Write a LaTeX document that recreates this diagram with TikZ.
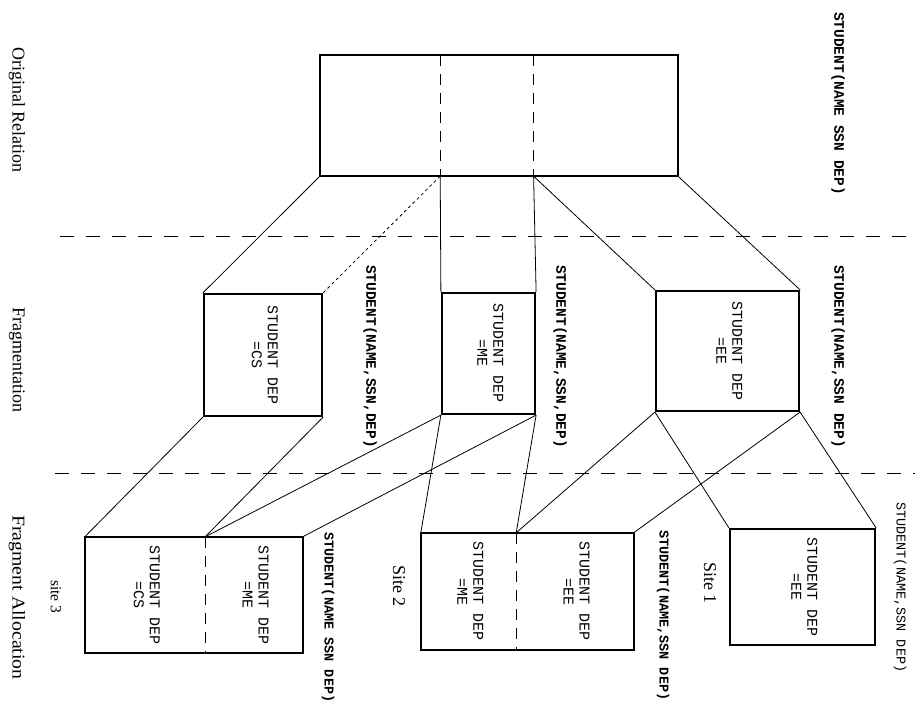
\documentclass[tikz,border=0pt]{standalone}
\usepackage{graphicx}
\usepackage{fontspec}
\setmainfont{Liberation Serif}
\setmonofont{Liberation Mono}
\usetikzlibrary{positioning}

\tikzset{
  part/.style={rectangle, inner sep=0pt, font=\ttfamily\fontsize{15}{16}\selectfont},
  fragbox/.style={part, draw, line width=2.2pt},
  link/.style={line width=0.8pt},
  sep/.style={line width=0.9pt, dash pattern=on 14pt off 12pt},
  divider/.style={line width=1.4pt, dash pattern=on 11pt off 8pt},
  rel/.style={rotate=-90, anchor=west, inner sep=0pt, font=\ttfamily\bfseries\fontsize{14.5}{16}\selectfont},
  siterel/.style={rel, font=\ttfamily\bfseries\fontsize{13.5}{15}\selectfont},
  stage/.style={rotate=-90, anchor=west, inner sep=0pt, font=\fontsize{18}{20}\selectfont},
}

\newcommand{\deptext}[1]{\rotatebox{-90}{\begin{tabular}{@{}c@{}}STUDENT DEP\\=#1\end{tabular}}}

\begin{document}
\begin{tikzpicture}[x=1pt, y=-1pt]
  \useasboundingbox (0,0) rectangle (915,708);

  \coordinate (sepA0) at (60,236); % first stage border
  \coordinate (sepA1) at (915,236);
  \coordinate (sepB0) at (55,473); % second stage border
  \coordinate (sepB1) at (915,473);

  % stage borders
  \draw[sep] (sepA0) -- (sepA1);
  \draw[sep] (sepB0) -- (sepB1);

  % original relation
  \node[part, minimum width=120pt, minimum height=121pt] (origA) at (380,115.5) {};
  \node[part, minimum width=93pt, minimum height=121pt, right=0pt of origA] (origB) {};
  \node[part, minimum width=144pt, minimum height=121pt, right=0pt of origB] (origC) {};
  \draw[line width=2.2pt] (origA.north west) rectangle (origC.south east);
  \draw[divider] (origA.north east) -- (origA.south east);
  \draw[divider] (origB.north east) -- (origB.south east);

  % fragments
  \node[fragbox, minimum width=118pt, minimum height=122pt] (fcs) at (263,355) {\deptext{CS}};
  \node[fragbox, minimum width=93pt, minimum height=121pt] (fme) at (488.5,353.5) {\deptext{ME}};
  \node[fragbox, minimum width=143pt, minimum height=120pt] (fee) at (727.5,351) {\deptext{EE}};

  % site 3 box
  \node[part, minimum width=120pt, minimum height=116pt] (s3a) at (145,595) {\deptext{CS}};
  \node[part, minimum width=97pt, minimum height=116pt, right=0pt of s3a] (s3b) {\deptext{ME}};
  \draw[line width=2.2pt] (s3a.north west) rectangle (s3b.south east);
  \draw[divider] (s3a.north east) -- (s3a.south east);
  % site 2 box
  \node[part, minimum width=95pt, minimum height=117pt] (s2a) at (468.5,591.5) {\deptext{ME}};
  \node[part, minimum width=117pt, minimum height=117pt, right=0pt of s2a] (s2b) {\deptext{EE}};
  \draw[line width=2.2pt] (s2a.north west) rectangle (s2b.south east);
  \draw[divider] (s2a.north east) -- (s2a.south east);
  % site 1 box
  \node[fragbox, minimum width=145pt, minimum height=116pt] (s1) at (802.5,587) {\deptext{EE}};

  % original -> fragments
  \draw[link] (origA.south west) -- (fcs.north west);
  \draw[link, dashed] (origA.south east) -- (fcs.north east);
  \draw[link] (origA.south east) -- (fme.north west);
  \draw[link] (origB.south east) -- (fme.north east);
  \draw[link] (origB.south east) -- (fee.north west);
  \draw[link] (origC.south east) -- (fee.north east);

  % fragments -> sites
  \draw[link] (fcs.south west) -- (s3a.north west);
  \draw[link] (fcs.south east) -- (s3a.north east);
  \draw[link] (fme.south west) -- (s3a.north east);
  \draw[link] (fme.south east) -- (s3b.north east);
  \draw[link] (fme.south west) -- (s2a.north west);
  \draw[link] (fme.south east) -- (s2a.north east);
  \draw[link] (fee.south west) -- (s2a.north east);
  \draw[link] (fee.south east) -- (s2b.north east);
  \draw[link] (fee.south west) -- (s1.north west);
  \draw[link] (fee.south east) -- (s1.north east);

  % relation labels
  \node[rel] (relorig) at (838,12) {STUDENT(NAME SSN DEP)};
  \node[rel] (relcs) at (370,265) {STUDENT(NAME,SSN,DEP)};
  \node[rel] (relme) at (560,265) {STUDENT(NAME,SSN,DEP)};
  \node[rel] (relee) at (838,265) {STUDENT(NAME,SSN DEP)};
  \node[siterel] (relsthree) at (328,532) {STUDENT(NAME SSN DEP)};
  \node[siterel] (relstwo) at (663,530) {STUDENT(NAME,SSN DEP)};
  \node[siterel, font=\ttfamily\fontsize{13.5}{15}\selectfont] (relsone) at (900,502) {STUDENT(NAME,SSN DEP)};

  % stage and site names
  \node[stage] (lblorig) at (17,47) {Original Relation};
  \node[stage] (lblfrag) at (17,307) {Fragmentation};
  \node[stage, xscale=1.1] (lblalloc) at (17,515) {Fragment Allocation};
  \node[stage, font=\fontsize{15.5}{17}\selectfont] (lblsthree) at (56,580) {site 3};
  \node[stage] (lblstwo) at (399,565) {Site 2};
  \node[stage] (lblsone) at (710,562) {Site 1};
\end{tikzpicture}
\end{document}
